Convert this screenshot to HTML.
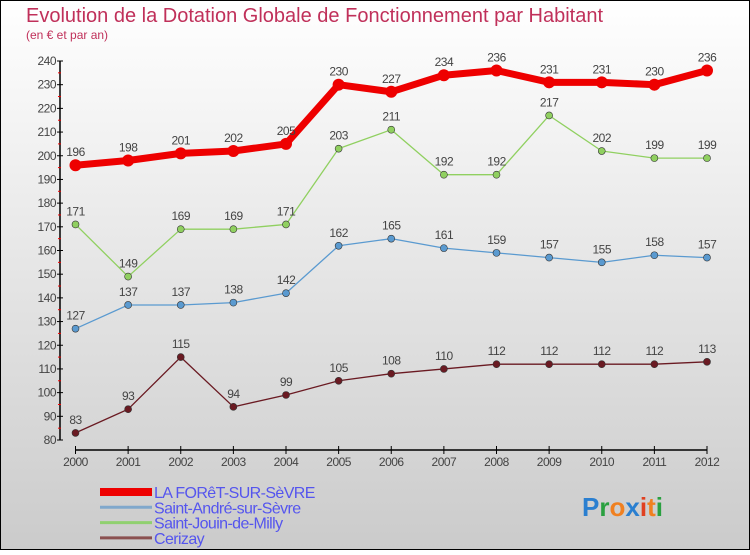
<!DOCTYPE html>
<html><head><meta charset="utf-8"><style>
html,body{margin:0;padding:0}
body{width:750px;height:550px;overflow:hidden;font-family:"Liberation Sans",sans-serif}
</style></head><body>
<svg width="750" height="550" xmlns="http://www.w3.org/2000/svg">
<defs><linearGradient id="bg" x1="0" y1="0" x2="0" y2="1"><stop offset="0" stop-color="#ffffff"/><stop offset="1" stop-color="#cbcbcb"/></linearGradient></defs>
<rect x="0.5" y="0.5" width="749" height="549" fill="url(#bg)" stroke="#000"/>
<text x="26" y="22" font-size="20" fill="#c0305a">Evolution de la Dotation Globale de Fonctionnement par Habitant</text>
<text x="26" y="39" font-size="12" fill="#c0305a">(en € et par an)</text>
<g id="axes"></g>
<g id="series"></g>
<g id="legend"></g>
<text x="582" y="516" font-size="26" font-weight="bold"><tspan fill="#2a7fd0">P</tspan><tspan fill="#2aa040">r</tspan><tspan fill="#f08020">o</tspan><tspan fill="#2a7fd0">x</tspan><tspan fill="#e04020">i</tspan><tspan fill="#f08020">t</tspan><tspan fill="#2aa040">i</tspan></text>
</svg>
<script>
const years=[2000,2001,2002,2003,2004,2005,2006,2007,2008,2009,2010,2011,2012];
const foret=[196,198,201,202,205,230,227,234,236,231,231,230,236];
const andre=[127,137,137,138,142,162,165,161,159,157,155,158,157];
const jouin=[171,149,169,169,171,203,211,192,192,217,202,199,199];
const cerizay=[83,93,115,94,99,105,108,110,112,112,112,112,113];
const yTicks=[80,90,100,110,120,130,140,150,160,170,180,190,200,210,220,230,240];
const names=["LA FORêT-SUR-SèVRE","Saint-André-sur-Sèvre","Saint-Jouin-de-Milly","Cerizay"];
const NS="http://www.w3.org/2000/svg";
const xs=i=>75.5+i*(707-75.5)/(years.length-1);
const ys=v=>440-(v-80)*(379/160);
function mk(t,a,p){const e=document.createElementNS(NS,t);for(const k in a)e.setAttribute(k,a[k]);p.appendChild(e);return e;}
const ax=document.getElementById('axes');
let e=mk('line',{x1:60,y1:61,x2:60,y2:440,stroke:'#000','stroke-width':1.5},ax);


e=mk('line',{x1:75.5,y1:450,x2:707,y2:450,stroke:'#000','stroke-width':1.5},ax);


yTicks.forEach((v,i)=>{
 mk('line',{x1:57,x2:63,y1:ys(v),y2:ys(v),stroke:'#000'},ax);
 if(i<yTicks.length-1) mk('line',{x1:58,x2:61,y1:ys(v+5),y2:ys(v+5),stroke:'#e00'},ax);
 const t=mk('text',{x:56,y:ys(v)+4,'font-size':12,fill:'#444','text-anchor':'end','letter-spacing':'-0.5'},ax);
 t.textContent=v;
 
 
});
years.forEach((y,i)=>{
 mk('line',{x1:xs(i),x2:xs(i),y1:446,y2:454,stroke:'#000'},ax);
 const t=mk('text',{x:xs(i),y:466,'font-size':12,fill:'#444','text-anchor':'middle','letter-spacing':'-0.5'},ax);
 t.textContent=y;
 
 
});
const sg=document.getElementById('series');
function series(d,col,w,r,name){
 const g=mk('g',{},sg);
 
 
 mk('polyline',{points:d.map((v,i)=>xs(i)+','+ys(v)).join(' '),fill:'none',stroke:col,'stroke-width':w,'stroke-linejoin':'round'},g);
 d.forEach((v,i)=>{
  const c=mk('circle',{cx:xs(i),cy:ys(v),r:r,fill:col,stroke:'#333','stroke-width':r>4?0:0.6},g);
  
  
  const t=mk('text',{x:xs(i),y:ys(v)-9,'font-size':12,fill:'#444','text-anchor':'middle','letter-spacing':'-0.5'},g);
  t.textContent=v;
  
  
 });
}
series(cerizay,'#6a1a22',1.3,3.5,'cerizay-series');
series(andre,'#5a9ad0',1.3,3.5,'saint-andre-series');
series(jouin,'#90d060',1.3,3.5,'saint-jouin-series');
series(foret,'#ee0000',7,6,'la-foret-series');
const lg=document.getElementById('legend');
const lc=['#ee0000','#80a8cc','#90d070','#8a5050'],lw=[8,3,3,3];
names.forEach((n,i)=>{
 const y=492+i*15.3;
 const g=mk('g',{},lg);
 
 
 mk('line',{x1:100,x2:152,y1:y,y2:y,stroke:lc[i],'stroke-width':lw[i]},g);
 const t=mk('text',{x:154,y:y+6,'font-size':16,fill:'#5555ee','letter-spacing':'-0.6'},g);
 t.textContent=n;
});
</script>
</body></html>
